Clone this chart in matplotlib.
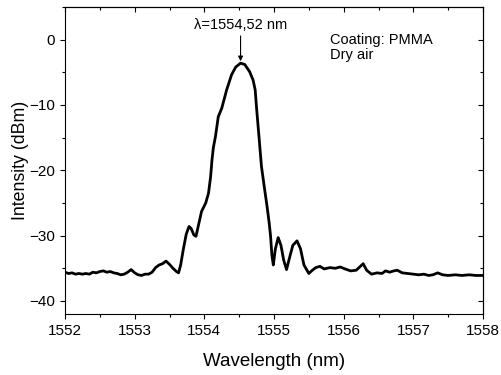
import numpy as np
import matplotlib
matplotlib.use("Agg")
import matplotlib.pyplot as plt
from matplotlib.ticker import MultipleLocator

plt.rcParams['font.family'] = ['Liberation Sans', 'DejaVu Sans']

# spectrum
wavelength = [
    1552.00, 1552.05, 1552.10, 1552.15, 1552.20, 1552.25, 1552.30, 1552.35,
    1552.40, 1552.45, 1552.50, 1552.55, 1552.60, 1552.65, 1552.70, 1552.75,
    1552.80, 1552.85, 1552.90, 1552.95, 1553.00, 1553.05, 1553.10, 1553.15,
    1553.20, 1553.25, 1553.30, 1553.35, 1553.40, 1553.45, 1553.50, 1553.55,
    1553.60, 1553.63, 1553.66, 1553.70, 1553.74, 1553.78, 1553.81, 1553.85,
    1553.88, 1553.92, 1553.96, 1554.02, 1554.06, 1554.09, 1554.11, 1554.13,
    1554.16, 1554.20, 1554.25, 1554.32, 1554.39, 1554.45, 1554.52, 1554.58,
    1554.65, 1554.70, 1554.73, 1554.75, 1554.78, 1554.82, 1554.86, 1554.90,
    1554.93, 1554.95, 1554.97, 1554.99, 1555.02, 1555.06, 1555.10, 1555.14,
    1555.18, 1555.22, 1555.27, 1555.33, 1555.38, 1555.43, 1555.50, 1555.55,
    1555.60, 1555.66, 1555.72, 1555.80, 1555.88, 1555.95, 1556.02, 1556.10,
    1556.18, 1556.24, 1556.28, 1556.33, 1556.40, 1556.48, 1556.55, 1556.60,
    1556.66, 1556.72, 1556.77, 1556.84, 1556.92, 1557.00, 1557.08, 1557.15,
    1557.22, 1557.28, 1557.35, 1557.42, 1557.50, 1557.60, 1557.70, 1557.80,
    1557.90, 1558.00,
]
intensity = [
    -35.6, -35.8, -35.7, -35.9, -35.8, -35.9, -35.8, -35.9,
    -35.6, -35.7, -35.5, -35.4, -35.6, -35.5, -35.7, -35.8,
    -36.0, -35.9, -35.6, -35.2, -35.7, -36.0, -36.1, -35.9,
    -35.9, -35.6, -34.9, -34.5, -34.3, -33.9, -34.4, -35.0,
    -35.5, -35.7, -34.5, -32.0, -29.8, -28.6, -28.9, -29.9,
    -30.1, -28.2, -26.3, -25.0, -23.5, -21.0, -18.4, -16.5,
    -14.8, -11.8, -10.5, -7.7, -5.4, -4.2, -3.6, -3.8,
    -4.9, -6.2, -7.7, -10.5, -14.3, -19.4, -22.5, -25.5,
    -28.0, -30.0, -33.0, -34.5, -32.0, -30.3, -31.5, -33.8,
    -35.2, -33.5, -31.5, -30.8, -32.0, -34.5, -35.8, -35.3,
    -34.9, -34.7, -35.1, -34.9, -35.0, -34.8, -35.1, -35.4,
    -35.3, -34.7, -34.3, -35.3, -35.9, -35.7, -35.8, -35.4,
    -35.6, -35.4, -35.3, -35.7, -35.8, -35.9, -36.0, -35.9,
    -36.1, -36.0, -35.7, -36.0, -36.1, -36.0, -36.1, -36.0,
    -36.1, -36.1,
]

peak_wl = 1554.52
peak_db = -3.6


def main():
    fig = plt.figure(figsize=(5.02, 3.75), dpi=100)
    ax = fig.add_axes([65 / 502, 1 - 314 / 375, 418 / 502, 307 / 375])

    ax.plot(wavelength, intensity, color='black', lw=2.0)

    ax.set_xlim(1552, 1558)
    ax.set_ylim(-42, 5)
    ax.xaxis.set_major_locator(MultipleLocator(1))
    ax.xaxis.set_minor_locator(MultipleLocator(0.5))
    ax.yaxis.set_major_locator(MultipleLocator(10))
    ax.yaxis.set_minor_locator(MultipleLocator(5))
    ax.tick_params(which='both', direction='out', labelsize=11,
                   top=False, right=False, width=0.8)
    ax.tick_params(which='major', length=3.5)
    ax.tick_params(which='minor', length=2)

    # inward mirrored ticks on top and right
    ax_top = ax.secondary_xaxis('top')
    ax_top.xaxis.set_major_locator(MultipleLocator(1))
    ax_top.xaxis.set_minor_locator(MultipleLocator(0.5))
    ax_top.tick_params(which='both', direction='in', labeltop=False, width=0.8)
    ax_top.tick_params(which='major', length=3.5)
    ax_top.tick_params(which='minor', length=2)
    ax_right = ax.secondary_yaxis('right')
    ax_right.yaxis.set_major_locator(MultipleLocator(10))
    ax_right.yaxis.set_minor_locator(MultipleLocator(5))
    ax_right.tick_params(which='both', direction='in', labelright=False, width=0.8)
    ax_right.tick_params(which='major', length=3.5)
    ax_right.tick_params(which='minor', length=2)

    ax.set_xlabel('Wavelength (nm)', fontsize=13.5, labelpad=11)
    ax.set_ylabel('Intensity (dBm)', fontsize=12.8, labelpad=0)

    ax.annotate('λ=1554,52 nm', xy=(peak_wl, peak_db + 0.3),
                xytext=(peak_wl, 1.2), ha='center', va='bottom', fontsize=10.5,
                arrowprops=dict(arrowstyle='-|>', color='black', lw=0.8,
                                mutation_scale=7, shrinkA=1, shrinkB=0))
    ax.text(1555.8, -1.2, 'Coating: PMMA\nDry air', fontsize=10.5,
            ha='left', va='center', linespacing=1.15)

    fig.savefig('out.png', dpi=100)


if __name__ == "__main__":
    main()
